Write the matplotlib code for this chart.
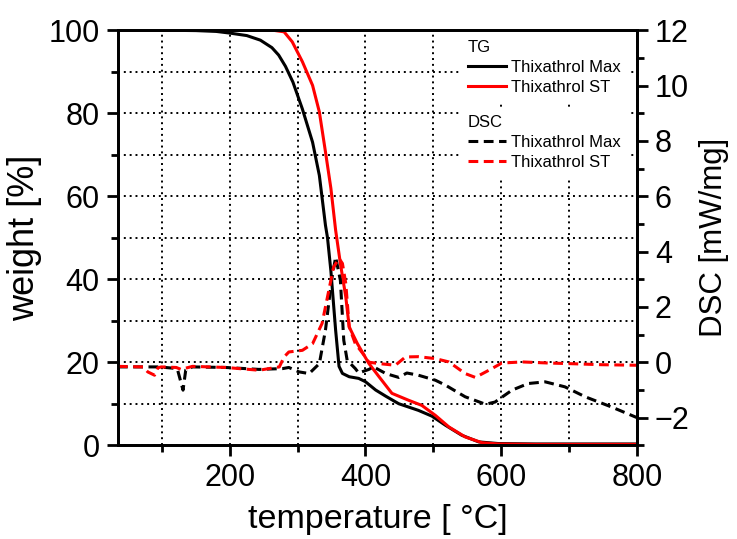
import matplotlib.pyplot as plt
from matplotlib.ticker import MultipleLocator

plt.rcParams['font.family'] = ['Liberation Sans', 'DejaVu Sans']

# TG, weight [%] (left axis)
tg_max_t = [35, 100, 150, 180, 200, 225, 245, 262, 272, 282, 293, 307, 322, 332, 341, 344, 349,
            356, 361, 366, 376, 390, 400, 415, 430, 449, 478, 498, 518, 542, 567, 596, 650, 800]
tg_max_w = [100, 100, 99.9, 99.7, 99.3, 98.7, 97.6, 95.8, 94.0, 91.3, 87.5, 81.0, 73.0, 65.0, 53.0,
            50.0, 42.0, 27.7, 19.0, 17.3, 16.5, 16.1, 15.3, 13.3, 11.8, 10.0, 8.4, 7.0, 4.8, 2.4,
            0.8, 0.4, 0.3, 0.3]

tg_st_t = [35, 200, 253, 263, 280, 292, 307, 322, 332, 341, 349, 356, 363, 371, 376,
           388, 405, 420, 439, 464, 483, 503, 523, 547, 572, 596, 650, 800]
tg_st_w = [100, 100, 100, 100, 99.6, 97.2, 92.4, 86.7, 80.3, 70.7, 61.9, 51.8, 43.8, 35.7, 28.5,
           24.5, 19.7, 16.5, 12.5, 10.8, 9.6, 7.2, 4.4, 2.0, 0.6, 0.3, 0.2, 0.2]

# DSC [mW/mg] (right axis)
dsc_max_t = [35, 67, 96, 118, 123, 131, 135, 145, 194, 243, 278, 287, 302, 317, 332, 341,
             350, 356, 363, 368, 373, 385, 390, 405, 412, 430, 449, 461, 478, 503, 518, 547,
             577, 591, 616, 640, 665, 694, 724, 763, 800]
dsc_max_d = [-0.17, -0.17, -0.17, -0.22, -0.28, -1.01, -0.28, -0.17, -0.19, -0.26, -0.23, -0.19,
             -0.35, -0.41, -0.05, 1.16, 2.96, 3.8, 2.96, 0.79, 0.07, -0.23, -0.39, -0.26, -0.17,
             -0.41, -0.55, -0.39, -0.47, -0.65, -0.83, -1.25, -1.52, -1.44, -1.01, -0.77, -0.71,
             -0.89, -1.25, -1.62, -2.0]

dsc_st_t = [35, 72, 79, 89, 94, 99, 121, 128, 145, 194, 243, 258, 273, 280, 287, 307, 322,
            336, 346, 353, 361, 366, 371, 376, 385, 400, 405, 420, 444, 459, 478, 503, 523,
            547, 562, 582, 601, 631, 670, 699, 748, 800]
dsc_st_d = [-0.15, -0.17, -0.35, -0.47, -0.2, -0.17, -0.19, -0.26, -0.15, -0.19, -0.29, -0.23,
            -0.17, 0.19, 0.37, 0.43, 0.67, 1.4, 2.6, 3.44, 3.75, 3.57, 2.84, 1.28, 0.67, 0.19,
            0.0, -0.05, -0.11, 0.19, 0.2, 0.13, 0.01, -0.41, -0.55, -0.29, -0.03, 0.01, -0.03,
            -0.05, -0.09, -0.11]

fig = plt.figure(figsize=(7.37, 5.39), dpi=100)
ax = fig.add_axes([0.160, 0.174, 0.704, 0.770])
ax2 = ax.twinx()

lw = 2.2
dash = (3.2, 1.8)
l1, = ax.plot(tg_max_t, tg_max_w, color='black', lw=lw, label='Thixathrol Max')
l2, = ax.plot(tg_st_t, tg_st_w, color='red', lw=lw, label='Thixathrol ST')
l3, = ax2.plot(dsc_max_t, dsc_max_d, color='black', lw=lw, ls=(0, dash), label='Thixathrol Max')
l4, = ax2.plot(dsc_st_t, dsc_st_d, color='red', lw=lw, ls=(0, dash), label='Thixathrol ST')

ax.set_xlim(35, 800)
ax.set_ylim(0, 100)
ax2.set_ylim(-3, 12)

ax.xaxis.set_major_locator(MultipleLocator(200))
ax.xaxis.set_minor_locator(MultipleLocator(100))
ax.yaxis.set_major_locator(MultipleLocator(20))
ax.yaxis.set_minor_locator(MultipleLocator(10))
ax2.yaxis.set_major_locator(MultipleLocator(2))
ax2.yaxis.set_minor_locator(MultipleLocator(1))

ax.grid(True, which='both', color='black', ls=(0, (1, 2)), lw=1.4)

for a in (ax, ax2):
    for s in a.spines.values():
        s.set_linewidth(2)
    a.tick_params(which='major', length=8, width=2, labelsize=22, pad=5)
    a.tick_params(which='minor', length=5, width=2)

ax.set_xlabel('temperature [ °C]', fontsize=24.5, labelpad=8)
ax.set_ylabel('weight [%]', fontsize=26, labelpad=5)
ax2.set_ylabel('DSC [mW/mg]', fontsize=22.5, labelpad=7)

leg_kw = dict(loc='upper left', fontsize=12, title_fontsize=12, alignment='left', frameon=True,
              facecolor='white', edgecolor='none', framealpha=1, fancybox=False,
              handlelength=2.3, handletextpad=0.3, borderaxespad=0.2, labelspacing=0.3)
leg1 = ax2.legend(handles=[l1, l2], title='TG', bbox_to_anchor=(0.655, 1.0), **leg_kw)
ax2.add_artist(leg1)
ax2.legend(handles=[l3, l4], title='DSC', bbox_to_anchor=(0.655, 0.82), **leg_kw)

fig.savefig('out.png', dpi=100)
